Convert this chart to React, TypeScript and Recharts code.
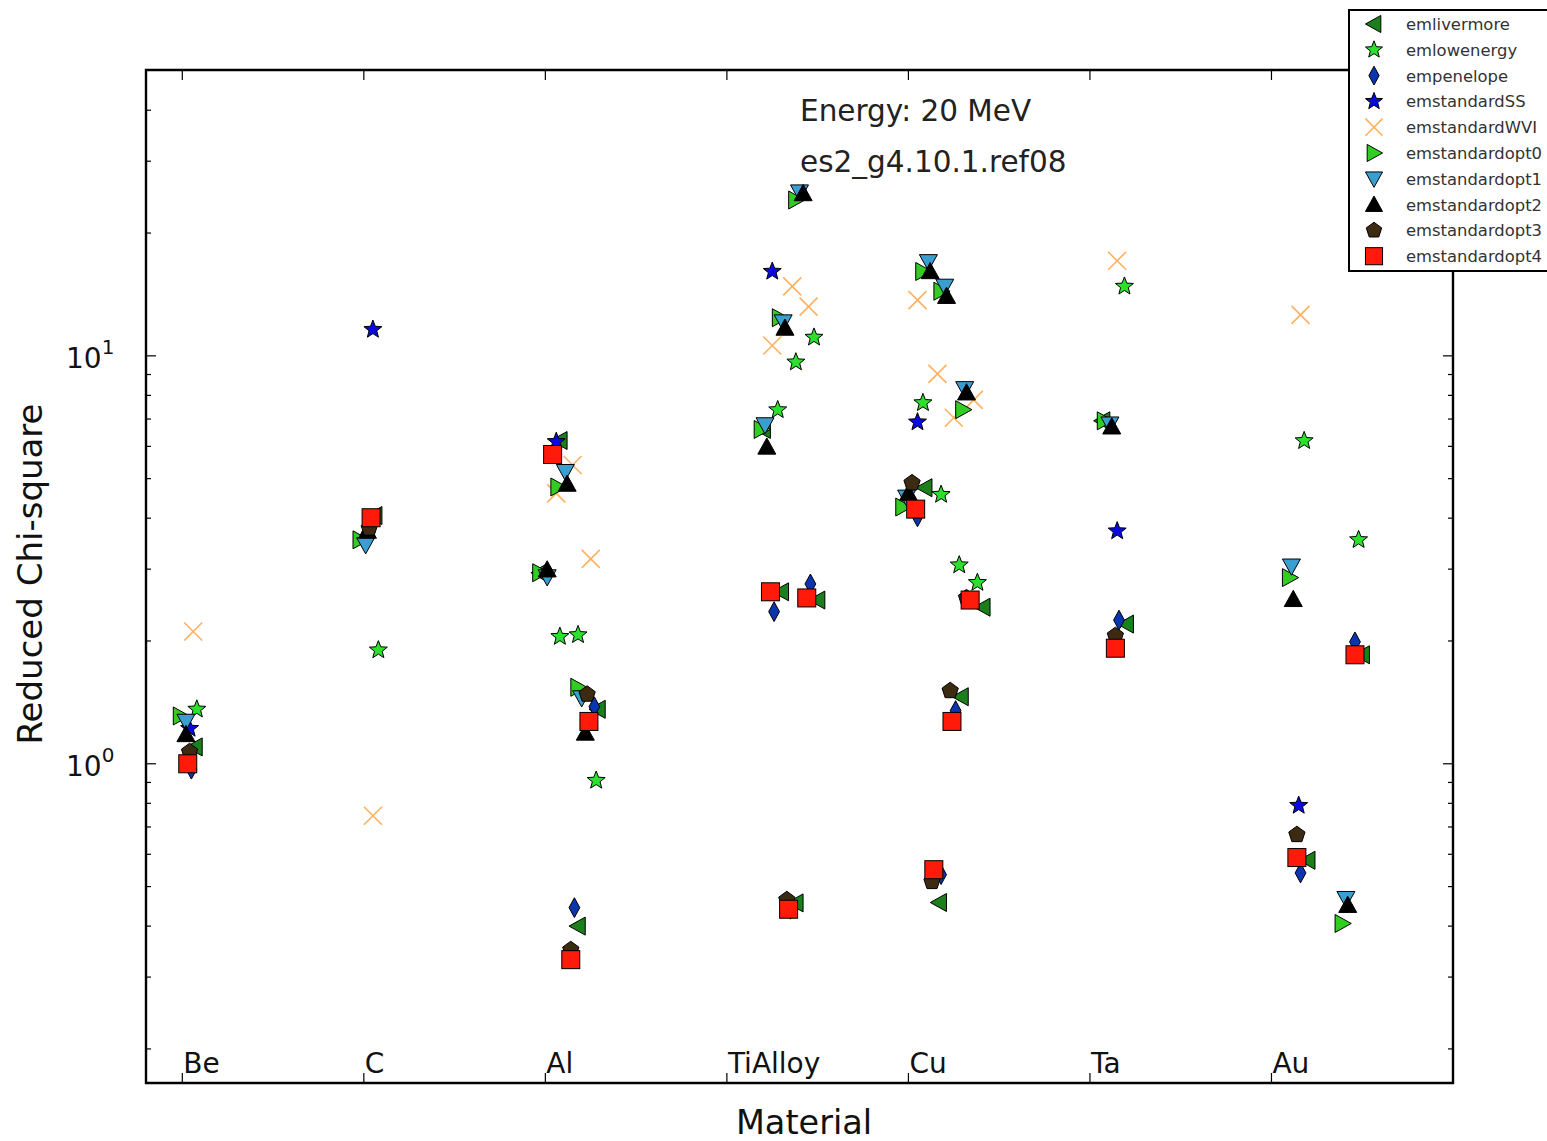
import React from 'react';
import { ScatterChart, Scatter, XAxis, YAxis, ReferenceArea } from 'recharts';

const MATERIALS = ['Be', 'C', 'Al', 'TiAlloy', 'Cu', 'Ta', 'Au'];
const X_TICKS = [0, 1, 2, 3, 4, 5, 6];
const Y_TICKS = [0.2, 0.3, 0.4, 0.5, 0.6, 0.7, 0.8, 0.9, 1, 2, 3, 4, 5, 6, 7, 8, 9, 10, 20, 30, 40];
const Y_MAJOR = [1, 10];
const Y_DOMAIN: [number, number] = [0.165, 50.2];
const X_DOMAIN: [number, number] = [-0.2, 7];

type P = [string, number, number]; // material, offset, value

const emlivermore: P[] = [
  ['Be', 0.07, 1.1], ['C', 0.06, 4.06],
  ['Al', 0.08, 6.2], ['Al', -0.03, 2.94], ['Al', 0.29, 1.36], ['Al', 0.18, 0.4],
  ['TiAlloy', 0.2, 6.6], ['TiAlloy', 0.3, 2.64], ['TiAlloy', 0.5, 2.52], ['TiAlloy', 0.38, 0.456],
  ['Cu', 0.09, 4.75], ['Cu', 0.41, 2.42], ['Cu', 0.29, 1.46], ['Cu', 0.17, 0.457],
  ['Ta', 0.07, 6.93], ['Ta', 0.2, 2.2],
  ['Au', 0.5, 1.85], ['Au', 0.2, 0.58],
];
const emlowenergy: P[] = [
  ['Be', 0.08, 1.36], ['C', 0.08, 1.9],
  ['Al', 0.08, 2.05], ['Al', 0.18, 2.07], ['Al', 0.28, 0.91],
  ['TiAlloy', 0.48, 11.1], ['TiAlloy', 0.38, 9.65], ['TiAlloy', 0.28, 7.37],
  ['Cu', 0.08, 7.67], ['Cu', 0.18, 4.57], ['Cu', 0.28, 3.07], ['Cu', 0.38, 2.78],
  ['Ta', 0.19, 14.8],
  ['Au', 0.18, 6.19], ['Au', 0.48, 3.54],
];
const empenelope: P[] = [
  ['Be', 0.05, 0.97], ['C', 0.02, 3.7],
  ['Al', 0.27, 1.38], ['Al', 0.16, 0.444],
  ['TiAlloy', 0.26, 2.36], ['TiAlloy', 0.46, 2.76], ['TiAlloy', 0.35, 0.44],
  ['Cu', 0.05, 4.03], ['Cu', 0.26, 1.35], ['Cu', 0.18, 0.535],
  ['Ta', 0.16, 2.25],
  ['Au', 0.46, 1.99], ['Au', 0.16, 0.54],
];
const emstandardSS: P[] = [
  ['Be', 0.04, 1.22], ['C', 0.05, 11.6], ['Al', 0.06, 6.16],
  ['TiAlloy', 0.25, 16.1], ['Cu', 0.05, 6.88], ['Ta', 0.15, 3.72], ['Au', 0.15, 0.79],
];
const emstandardWVI: P[] = [
  ['Be', 0.06, 2.11], ['C', 0.05, 0.746],
  ['Al', 0.15, 5.4], ['Al', 0.06, 4.6], ['Al', 0.25, 3.18],
  ['TiAlloy', 0.36, 14.8], ['TiAlloy', 0.45, 13.2], ['TiAlloy', 0.25, 10.6],
  ['Cu', 0.05, 13.7], ['Cu', 0.16, 9.03], ['Cu', 0.36, 7.8], ['Cu', 0.25, 7.05],
  ['Ta', 0.15, 17.1], ['Au', 0.16, 12.6],
];
const emstandardopt0: P[] = [
  ['Be', -0.01, 1.31], ['C', -0.02, 3.54],
  ['Al', 0.07, 4.77], ['Al', -0.03, 2.94], ['Al', 0.18, 1.54],
  ['TiAlloy', 0.38, 24.1], ['TiAlloy', 0.29, 12.4], ['TiAlloy', 0.19, 6.6],
  ['Cu', 0.08, 16.1], ['Cu', 0.18, 14.4], ['Cu', 0.3, 7.38], ['Cu', -0.03, 4.26],
  ['Ta', 0.08, 6.93],
  ['Au', 0.1, 2.86], ['Au', 0.39, 0.406],
];
const emstandardopt1: P[] = [
  ['Be', 0.02, 1.27], ['C', 0.01, 3.44],
  ['Al', 0.11, 5.2], ['Al', 0.01, 2.87], ['Al', 0.2, 1.45],
  ['TiAlloy', 0.4, 25.2], ['TiAlloy', 0.31, 12.1], ['TiAlloy', 0.21, 6.77],
  ['Cu', 0.11, 17.0], ['Cu', 0.2, 14.8], ['Cu', 0.31, 8.3], ['Cu', -0.01, 4.5],
  ['Ta', 0.11, 6.8],
  ['Au', 0.11, 3.05], ['Au', 0.41, 0.467],
];
const emstandardopt2: P[] = [
  ['Be', 0.02, 1.18], ['C', 0.02, 3.72],
  ['Al', 0.12, 4.85], ['Al', 0.01, 2.99], ['Al', 0.22, 1.19],
  ['TiAlloy', 0.42, 25.0], ['TiAlloy', 0.32, 11.7], ['TiAlloy', 0.22, 5.98],
  ['Cu', 0.12, 16.1], ['Cu', 0.21, 14.0], ['Cu', 0.32, 8.12], ['Cu', 0.0, 4.6],
  ['Ta', 0.12, 6.7],
  ['Au', 0.12, 2.53], ['Au', 0.42, 0.45],
];
const emstandardopt3: P[] = [
  ['Be', 0.04, 1.07], ['C', 0.03, 3.78],
  ['Al', 0.23, 1.48], ['Al', 0.14, 0.35],
  ['TiAlloy', 0.24, 2.62], ['TiAlloy', 0.33, 0.464],
  ['Cu', 0.02, 4.88], ['Cu', 0.32, 2.55], ['Cu', 0.23, 1.51], ['Cu', 0.13, 0.514],
  ['Ta', 0.14, 2.06],
  ['Au', 0.14, 0.67],
];
const emstandardopt4: P[] = [
  ['Be', 0.03, 1.0], ['C', 0.04, 4.01],
  ['Al', 0.04, 5.73], ['Al', 0.24, 1.27], ['Al', 0.14, 0.331],
  ['TiAlloy', 0.24, 2.64], ['TiAlloy', 0.44, 2.55], ['TiAlloy', 0.34, 0.44],
  ['Cu', 0.04, 4.21], ['Cu', 0.34, 2.52], ['Cu', 0.24, 1.27], ['Cu', 0.14, 0.55],
  ['Ta', 0.14, 1.92],
  ['Au', 0.46, 1.85], ['Au', 0.14, 0.589],
];

type Kind = 'tl' | 'star' | 'diamond' | 'x' | 'tr' | 'td' | 'tu' | 'pent' | 'sq';

const SERIES: { name: string; kind: Kind; color: string; data: P[] }[] = [
  { name: 'emlivermore', kind: 'tl', color: '#1b7f1b', data: emlivermore },
  { name: 'emlowenergy', kind: 'star', color: '#2ee02e', data: emlowenergy },
  { name: 'empenelope', kind: 'diamond', color: '#0a35b0', data: empenelope },
  { name: 'emstandardSS', kind: 'star', color: '#0a0ae0', data: emstandardSS },
  { name: 'emstandardWVI', kind: 'x', color: '#ffb060', data: emstandardWVI },
  { name: 'emstandardopt0', kind: 'tr', color: '#33cc22', data: emstandardopt0 },
  { name: 'emstandardopt1', kind: 'td', color: '#3a9fd0', data: emstandardopt1 },
  { name: 'emstandardopt2', kind: 'tu', color: '#000000', data: emstandardopt2 },
  { name: 'emstandardopt3', kind: 'pent', color: '#3d2a12', data: emstandardopt3 },
  { name: 'emstandardopt4', kind: 'sq', color: '#ff1a0a', data: emstandardopt4 },
];

const toPoints = (d: P[]) => d.map(([m, dx, y]) => ({ x: MATERIALS.indexOf(m) + dx, y }));

const FONT = '"DejaVu Sans", sans-serif';
const PLOT_L = 146;
const PLOT_R = 1453;
const PLOT_T = 70;
const PLOT_B = 1083;

function starPts(cx: number, cy: number, R: number, r: number) {
  const pts: string[] = [];
  for (let i = 0; i < 10; i++) {
    const a = -Math.PI / 2 + (i * Math.PI) / 5;
    const rr = i % 2 === 0 ? R : r;
    pts.push(`${cx + rr * Math.cos(a)},${cy + rr * Math.sin(a)}`);
  }
  return pts.join(' ');
}
function polyPts(cx: number, cy: number, R: number, n: number) {
  const pts: string[] = [];
  for (let i = 0; i < n; i++) {
    const a = -Math.PI / 2 + (i * 2 * Math.PI) / n;
    pts.push(`${cx + R * Math.cos(a)},${cy + R * Math.sin(a)}`);
  }
  return pts.join(' ');
}

function Marker({ kind, color, cx, cy, s = 1 }: { kind: Kind; color: string; cx: number; cy: number; s?: number }) {
  const r = 9 * s;
  const common = { fill: color, stroke: '#000', strokeWidth: 1 };
  switch (kind) {
    case 'tl':
      return <polygon points={`${cx - r},${cy} ${cx + r * 0.8},${cy - r} ${cx + r * 0.8},${cy + r}`} {...common} />;
    case 'tr':
      return <polygon points={`${cx + r},${cy} ${cx - r * 0.8},${cy - r} ${cx - r * 0.8},${cy + r}`} {...common} />;
    case 'tu':
      return <polygon points={`${cx},${cy - r} ${cx - r},${cy + r * 0.8} ${cx + r},${cy + r * 0.8}`} {...common} />;
    case 'td':
      return <polygon points={`${cx},${cy + r} ${cx - r},${cy - r * 0.8} ${cx + r},${cy - r * 0.8}`} {...common} />;
    case 'star':
      return <polygon points={starPts(cx, cy, r * 1.05, r * 0.45)} {...common} />;
    case 'diamond':
      return <polygon points={`${cx},${cy - r * 1.1} ${cx + r * 0.6},${cy} ${cx},${cy + r * 1.1} ${cx - r * 0.6},${cy}`} {...common} />;
    case 'pent':
      return <polygon points={polyPts(cx, cy, r * 0.95, 5)} {...common} />;
    case 'sq':
      return <rect x={cx - r} y={cy - r} width={2 * r} height={2 * r} {...common} />;
    case 'x':
      return (
        <g stroke={color} strokeWidth={1.6}>
          <line x1={cx - r} y1={cy - r} x2={cx + r} y2={cy + r} />
          <line x1={cx - r} y1={cy + r} x2={cx + r} y2={cy - r} />
        </g>
      );
  }
  return null;
}

const YTick = (props: any) => {
  const { y, payload } = props;
  const v = payload.value;
  const major = Y_MAJOR.includes(v);
  const len = major ? 10 : 5;
  return (
    <g>
      <line x1={PLOT_L} x2={PLOT_L + len} y1={y} y2={y} stroke="#000" strokeWidth={1.2} />
      <line x1={PLOT_R - len} x2={PLOT_R} y1={y} y2={y} stroke="#000" strokeWidth={1.2} />
      {major && (
        <text x={66} y={y + 12} fontFamily={FONT} fontSize={28} fill="#111">
          10
          <tspan dy={-14} fontSize={20}>{v === 1 ? '0' : '1'}</tspan>
        </text>
      )}
    </g>
  );
};

const XTick = (props: any) => {
  const { x, payload } = props;
  return (
    <g>
      <line x1={x} x2={x} y1={PLOT_B} y2={PLOT_B - 10} stroke="#000" strokeWidth={1.2} />
      <line x1={x} x2={x} y1={PLOT_T} y2={PLOT_T + 10} stroke="#000" strokeWidth={1.2} />
      <text x={x + 1} y={1073} fontFamily={FONT} fontSize={28} fill="#111">
        {MATERIALS[payload.value]}
      </text>
    </g>
  );
};

export default function App() {
  return (
    <div style={{ position: 'absolute', left: 0, top: 0, width: 1547, height: 1141, overflow: 'hidden', background: '#fff' }}>
      <ScatterChart width={1547} height={1141} margin={{ top: PLOT_T, right: 1547 - PLOT_R, bottom: 0, left: 0 }}>
        <XAxis
          type="number"
          dataKey="x"
          domain={X_DOMAIN}
          ticks={X_TICKS}
          interval={0}
          allowDataOverflow
          axisLine={false}
          tickLine={false}
          height={1141 - PLOT_B}
          tick={XTick}
        />
        <YAxis
          type="number"
          dataKey="y"
          scale="log"
          domain={Y_DOMAIN}
          ticks={Y_TICKS}
          interval={0}
          allowDataOverflow
          axisLine={false}
          tickLine={false}
          width={PLOT_L}
          tick={YTick}
        />
        <ReferenceArea x1={X_DOMAIN[0]} x2={X_DOMAIN[1]} y1={Y_DOMAIN[0]} y2={Y_DOMAIN[1]} fill="none" stroke="#000" strokeWidth={2.4} ifOverflow="visible" />
        {SERIES.map((s) => (
          <Scatter
            key={s.name}
            name={s.name}
            data={toPoints(s.data)}
            isAnimationActive={false}
            shape={(p: any) => <Marker kind={s.kind} color={s.color} cx={p.cx} cy={p.cy} />}
          />
        ))}
      </ScatterChart>
      <svg width={1547} height={1141} style={{ position: 'absolute', left: 0, top: 0, pointerEvents: 'none' }}>
        <text x={800} y={121} fontFamily={FONT} fontSize={29.5} fill="#222">Energy: 20 MeV</text>
        <text x={800} y={172} fontFamily={FONT} fontSize={29.5} fill="#222">es2_g4.10.1.ref08</text>
        <text x={804} y={1134} textAnchor="middle" fontFamily={FONT} fontSize={33.5} fill="#111">Material</text>
        <text x={42} y={574} textAnchor="middle" transform="rotate(-90 42 574)" fontFamily={FONT} fontSize={34} fill="#111">
          Reduced Chi-square
        </text>
        <g>
          <rect x={1349} y={10} width={230} height={261} fill="#fff" stroke="#000" strokeWidth={2} />
          {SERIES.map((s, i) => (
            <g key={s.name}>
              <Marker kind={s.kind} color={s.color} cx={1374} cy={24 + i * 25.8} s={0.95} />
              <text x={1406} y={30 + i * 25.8} fontFamily={FONT} fontSize={16.4} fill="#333">{s.name}</text>
            </g>
          ))}
        </g>
      </svg>
    </div>
  );
}
